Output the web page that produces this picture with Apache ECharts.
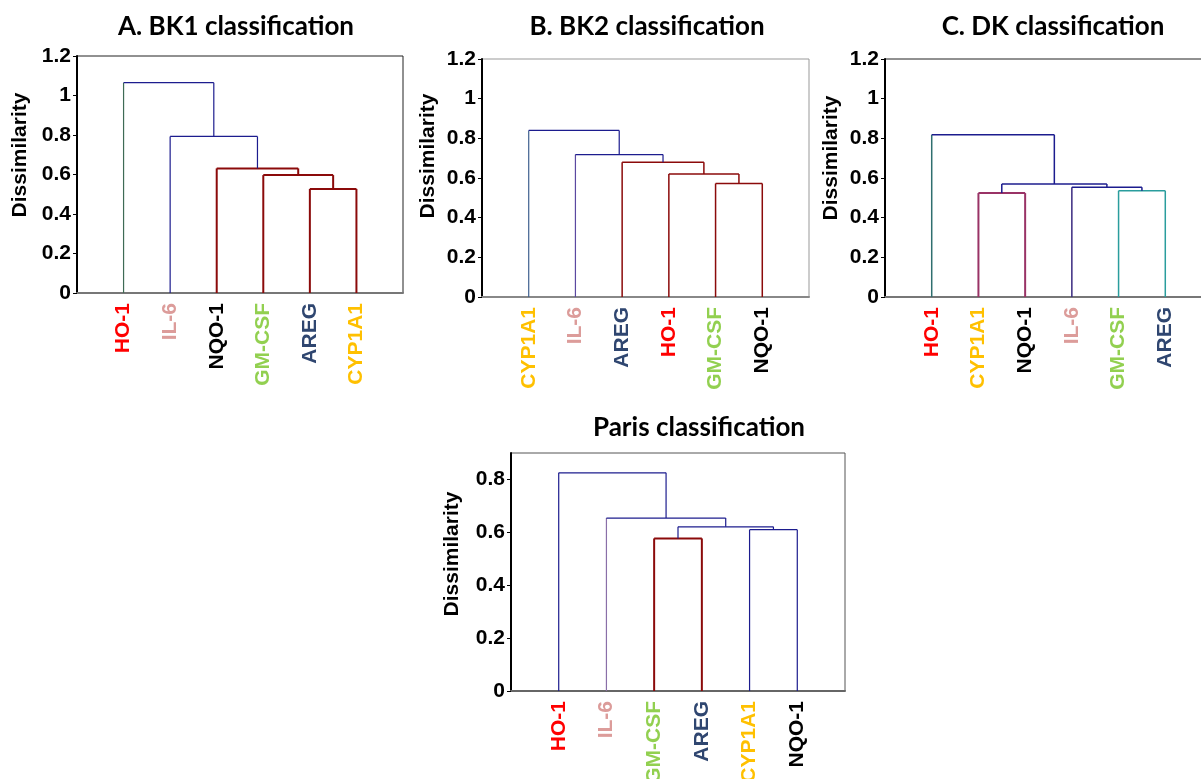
<!DOCTYPE html>
<html>
<head>
<meta charset="utf-8">
<title>Dendrograms</title>
<script src="https://cdn.jsdelivr.net/npm/echarts@6/dist/echarts.min.js"></script>
<style>
  html, body { margin: 0; padding: 0; background: #fff; }
  #chart { width: 1201px; height: 779px; }
</style>
</head>
<body>
<div id="chart"></div>
<script>
// leaf order (left to right) for each panel
const bk1Leaves = ['HO-1', 'IL-6', 'NQO-1', 'GM-CSF', 'AREG', 'CYP1A1']
const bk2Leaves = ['CYP1A1', 'IL-6', 'AREG', 'HO-1', 'GM-CSF', 'NQO-1']
const dkLeaves = ['HO-1', 'CYP1A1', 'NQO-1', 'IL-6', 'GM-CSF', 'AREG']
const parisLeaves = ['HO-1', 'IL-6', 'GM-CSF', 'AREG', 'CYP1A1', 'NQO-1']

// merges: positive = leaf number (1-based), negative = earlier merge (-1 = first merge)
const bk1Merges = [[5, 6], [4, -1], [3, -2], [2, -3], [1, -4]]
const bk2Merges = [[5, 6], [4, -1], [3, -2], [2, -3], [1, -4]]
const dkMerges = [[2, 3], [5, 6], [4, -2], [-1, -3], [1, -4]]
const parisMerges = [[3, 4], [5, 6], [-1, -2], [2, -3], [1, -4]]

// dissimilarity at each merge
const bk1Heights = [0.527, 0.597, 0.631, 0.793, 1.065]
const bk2Heights = [0.572, 0.620, 0.679, 0.718, 0.840]
const dkHeights = [0.524, 0.536, 0.553, 0.570, 0.818]
const parisHeights = [0.577, 0.610, 0.621, 0.654, 0.825]

// y ticks
const topTicks = [0, 0.2, 0.4, 0.6, 0.8, 1, 1.2]
const parisTicks = [0, 0.2, 0.4, 0.6, 0.8]

const RED = '#8b0a0a'
const NAVY = '#1c1c8e'
const PURPLE = '#993366'
const TEAL = '#2a9d9d'

const geneColors = {
  'HO-1': '#ff0000',
  'IL-6': '#dc9c9a',
  'NQO-1': '#000000',
  'GM-CSF': '#92d050',
  'AREG': '#2f4670',
  'CYP1A1': '#ffc000'
}

const FONT = '"Liberation Sans", Arial, sans-serif'

const panels = [
  {
    title: 'A. BK1 classification', tx: 236, ty: 27, nx: 20, ny: 155,
    leaves: bk1Leaves, merges: bk1Merges, heights: bk1Heights, ticks: topTicks, max: 1.2,
    colors: [RED, RED, RED, NAVY, NAVY], widths: [2, 2, 2, 1.2, 1.2],
    legColors: { 'HO-1': '#3e6b55' },
    grid: { left: 77, top: 56, width: 326, height: 237 },
    border: '#222', xLine: '#777'
  },
  {
    title: 'B. BK2 classification', tx: 647, ty: 27, nx: 428, ny: 156,
    leaves: bk2Leaves, merges: bk2Merges, heights: bk2Heights, ticks: topTicks, max: 1.2,
    colors: [RED, RED, RED, NAVY, NAVY], widths: [1.5, 1.5, 1.5, 1.2, 1.2],
    legColors: { 'CYP1A1': '#3f5f8f', 'IL-6': '#5b48a0' },
    grid: { left: 482, top: 59, width: 327, height: 238 },
    border: '#999', xLine: '#888'
  },
  {
    title: 'C. DK classification', tx: 1053, ty: 27, nx: 831, ny: 158,
    leaves: dkLeaves, merges: dkMerges, heights: dkHeights, ticks: topTicks, max: 1.2,
    colors: [PURPLE, TEAL, NAVY, NAVY, NAVY], widths: [2, 1.5, 1.5, 1.5, 1.5],
    legColors: { 'HO-1': '#2f6f6f', 'IL-6': '#3a2a80' },
    grid: { left: 885, top: 59, width: 327, height: 238 },
    border: '#222', xLine: '#777'
  },
  {
    title: 'Paris classification', tx: 699, ty: 428, nx: 452, ny: 554,
    leaves: parisLeaves, merges: parisMerges, heights: parisHeights, ticks: parisTicks, max: 0.9,
    colors: [RED, NAVY, NAVY, NAVY, NAVY], widths: [2, 1.2, 1.2, 1.2, 1.2],
    legColors: { 'IL-6': '#8a6fa8' },
    grid: { left: 511, top: 453, width: 334, height: 238 },
    border: '#555', xLine: '#666'
  }
]

function richKey(name) {
  return name.replace(/[^A-Za-z0-9]/g, '')
}

const rich = {}
Object.keys(geneColors).forEach(g => {
  rich[richKey(g)] = {
    color: geneColors[g],
    fontWeight: 'bold',
    fontSize: 21,
    fontFamily: FONT
  }
})

function buildSeries(p, gi) {
  const nodeX = []
  const series = []
  const childPos = (c) => {
    if (c > 0) return { x: c, y: 0, leaf: p.leaves[c - 1] }
    return { x: nodeX[-c - 1], y: p.heights[-c - 1], leaf: null }
  }
  p.merges.forEach((m, i) => {
    const h = p.heights[i]
    const a = childPos(m[0])
    const b = childPos(m[1])
    nodeX.push((a.x + b.x) / 2)
    const color = p.colors[i]
    const segs = [
      { data: [[a.x, a.y], [a.x, h]], color: (a.leaf && p.legColors[a.leaf]) || color },
      { data: [[a.x, h], [b.x, h]], color: color },
      { data: [[b.x, h], [b.x, b.y]], color: (b.leaf && p.legColors[b.leaf]) || color }
    ]
    segs.forEach(s => {
      series.push({
        type: 'line',
        xAxisIndex: gi,
        yAxisIndex: gi,
        data: s.data,
        symbol: 'none',
        silent: true,
        animation: false,
        lineStyle: { color: s.color, width: p.widths[i] }
      })
    })
  })
  return series
}

const chart = echarts.init(document.getElementById('chart'))

const option = {
  backgroundColor: '#fff',
  animation: false,
  grid: panels.map(p => Object.assign({
    show: true,
    outerBoundsMode: 'none',
    containLabel: false,
    borderColor: p.border,
    borderWidth: 1,
    backgroundColor: 'transparent'
  }, p.grid)),
  xAxis: panels.map((p, gi) => ({
    type: 'value',
    gridIndex: gi,
    min: 0,
    max: 7,
    interval: 1,
    splitLine: { show: false },
    axisTick: { show: false },
    axisLine: { show: true, onZero: false, lineStyle: { color: p.xLine, width: 2 } },
    axisLabel: {
      rotate: 90,
      margin: 10,
      rich: rich,
      formatter: (v) => {
        const i = Math.round(v) - 1
        if (i < 0 || i >= p.leaves.length) return ''
        return '{' + richKey(p.leaves[i]) + '|' + p.leaves[i] + '}'
      }
    }
  })),
  yAxis: panels.map((p, gi) => ({
    type: 'value',
    gridIndex: gi,
    min: 0,
    max: p.max,
    interval: 0.2,
    splitLine: { show: false },
    axisLine: { show: true, lineStyle: { color: '#000', width: 2 } },
    axisTick: { show: true, length: 4, lineStyle: { color: '#000' } },
    axisLabel: {
      showMaxLabel: p.ticks[p.ticks.length - 1] === p.max,
      margin: 6,
      color: '#000',
      fontWeight: 'bold',
      fontSize: 21,
      fontFamily: FONT
    }
  })),
  graphic: [].concat(
    panels.map(p => ({
      type: 'text',
      x: p.tx,
      y: p.ty,
      style: {
        text: p.title,
        align: 'center',
        verticalAlign: 'middle',
        fill: '#000',
        fontSize: 26,
        fontWeight: 'bold',
        fontFamily: 'Lato, "Open Sans", sans-serif'
      }
    })),
    panels.map(p => ({
      type: 'text',
      x: p.nx,
      y: p.ny,
      rotation: Math.PI / 2,
      style: {
        text: 'Dissimilarity',
        align: 'center',
        verticalAlign: 'middle',
        fill: '#000',
        fontSize: 21,
        fontWeight: 'bold',
        fontFamily: FONT
      }
    }))
  ),
  series: [].concat(...panels.map((p, gi) => buildSeries(p, gi)))
}

chart.setOption(option)
window.addEventListener('resize', () => chart.resize())
</script>
</body>
</html>
